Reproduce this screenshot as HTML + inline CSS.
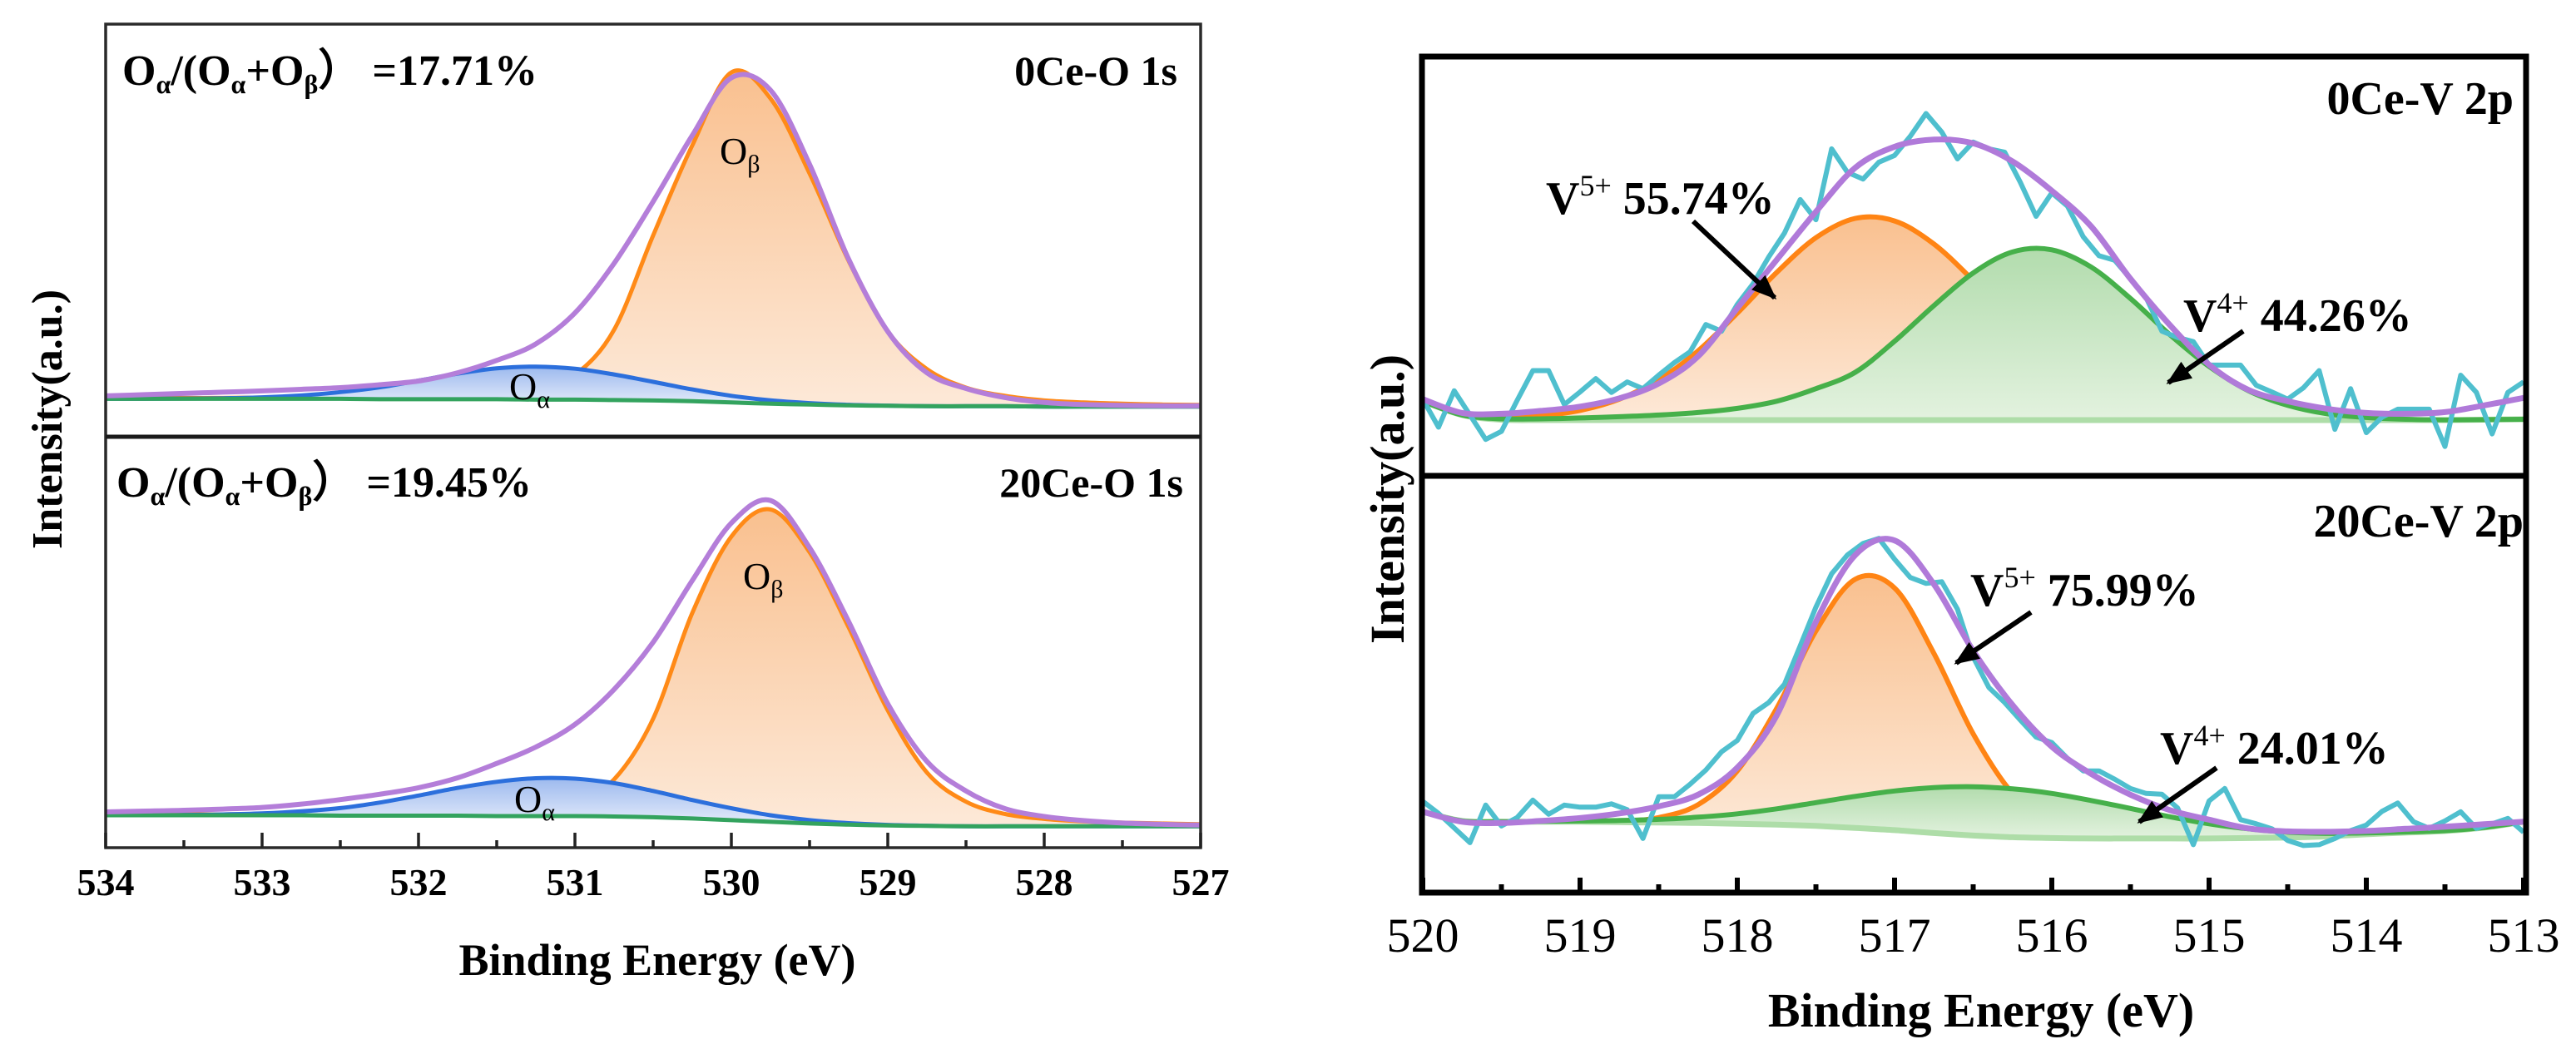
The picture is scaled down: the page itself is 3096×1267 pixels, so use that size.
<!DOCTYPE html>
<html><head><meta charset="utf-8"><style>
html,body{margin:0;padding:0;background:#fff;}
svg{display:block;}
text{font-family:"Liberation Serif","DejaVu Serif",serif;}
</style></head><body>
<svg id="fig" width="3096" height="1267" viewBox="0 0 3096 1267" xmlns="http://www.w3.org/2000/svg">
<defs>
<linearGradient id="gOr" x1="0" y1="0" x2="0" y2="1"><stop offset="0" stop-color="#f9c08f"/><stop offset="1" stop-color="#fde9d8"/></linearGradient>
<linearGradient id="gBl" x1="0" y1="0" x2="0" y2="1"><stop offset="0" stop-color="#9cb9ee"/><stop offset="1" stop-color="#e8eefb"/></linearGradient>
<linearGradient id="gGr" x1="0" y1="0" x2="0" y2="1"><stop offset="0" stop-color="#b2dcad"/><stop offset="1" stop-color="#e3f2df"/></linearGradient>
<marker id="ah" viewBox="0 0 10 10" refX="9" refY="5" markerWidth="5" markerHeight="5" orient="auto" markerUnits="strokeWidth"><path d="M0,1 L10,5 L0,9 Z" fill="#000"/></marker>
</defs>
<g id="plots"></g>

<rect x="127" y="29" width="1316" height="990" fill="none" stroke="#2a2a2a" stroke-width="3.5"/>
<line x1="127" y1="525" x2="1443" y2="525" stroke="#1a1a1a" stroke-width="5"/>
<g id="leftTicks"></g>

<rect x="1709" y="68" width="1327" height="1005" fill="none" stroke="#000" stroke-width="7"/>
<line x1="1709" y1="572" x2="3036" y2="572" stroke="#000" stroke-width="7"/>
<g id="rightTicks"></g>

<text x="147" y="102" font-size="52" font-weight="bold">O<tspan font-size="32" dy="10">α</tspan><tspan dy="-10">/(O</tspan><tspan font-size="32" dy="10">α</tspan><tspan dy="-10">+O</tspan><tspan font-size="32" dy="10">β</tspan><tspan dy="-10">） =17.71%</tspan></text>
<text x="1415" y="102" font-size="50" font-weight="bold" text-anchor="end">0Ce-O 1s</text>
<text x="140" y="597" font-size="52" font-weight="bold">O<tspan font-size="32" dy="10">α</tspan><tspan dy="-10">/(O</tspan><tspan font-size="32" dy="10">α</tspan><tspan dy="-10">+O</tspan><tspan font-size="32" dy="10">β</tspan><tspan dy="-10">） =19.45%</tspan></text>
<text x="1422" y="597" font-size="50" font-weight="bold" text-anchor="end">20Ce-O 1s</text>
<text x="865" y="197" font-size="46" font-family="Liberation Sans, sans-serif">O<tspan font-size="30" dy="10">β</tspan></text>
<text x="612" y="480" font-size="46" font-family="Liberation Sans, sans-serif">O<tspan font-size="30" dy="10">α</tspan></text>
<text x="893" y="708" font-size="46" font-family="Liberation Sans, sans-serif">O<tspan font-size="30" dy="10">β</tspan></text>
<text x="618" y="976" font-size="46" font-family="Liberation Sans, sans-serif">O<tspan font-size="30" dy="10">α</tspan></text>
<text x="790" y="1172" font-size="54" font-weight="bold" text-anchor="middle">Binding Energy (eV)</text>
<text x="0" y="0" font-size="52" font-weight="bold" text-anchor="middle" transform="translate(74,504) rotate(-90)">Intensity(a.u.)</text>

<text x="3021" y="137" font-size="56" font-weight="bold" text-anchor="end">0Ce-V 2p</text>
<text x="3033" y="645" font-size="56" font-weight="bold" text-anchor="end">20Ce-V 2p</text>
<text x="1858" y="257" font-size="56" font-weight="bold">V<tspan font-size="36" font-weight="normal" dy="-22">5+</tspan><tspan dy="22"> 55.74%</tspan></text>
<text x="2624" y="398" font-size="56" font-weight="bold">V<tspan font-size="36" font-weight="normal" dy="-22">4+</tspan><tspan dy="22"> 44.26%</tspan></text>
<text x="2368" y="728" font-size="56" font-weight="bold">V<tspan font-size="36" font-weight="normal" dy="-22">5+</tspan><tspan dy="22"> 75.99%</tspan></text>
<text x="2596" y="918" font-size="56" font-weight="bold">V<tspan font-size="36" font-weight="normal" dy="-22">4+</tspan><tspan dy="22"> 24.01%</tspan></text>
<line x1="2035" y1="266" x2="2133" y2="358" stroke="#000" stroke-width="6" marker-end="url(#ah)"/>
<line x1="2696" y1="398" x2="2606" y2="460" stroke="#000" stroke-width="6" marker-end="url(#ah)"/>
<line x1="2441" y1="736" x2="2351" y2="797" stroke="#000" stroke-width="6" marker-end="url(#ah)"/>
<line x1="2664" y1="923" x2="2571" y2="988" stroke="#000" stroke-width="6" marker-end="url(#ah)"/>
<text x="2381" y="1234" font-size="58" font-weight="bold" text-anchor="middle">Binding Energy (eV)</text>
<text x="0" y="0" font-size="58" font-weight="bold" text-anchor="middle" transform="translate(1687,600) rotate(-90)">Intensity(a.u.)</text>
</svg>
<script>
// ---------- DATA ----------
const eLeft=[534,533.75,533.5,533.25,533,532.75,532.5,532.25,532,531.75,531.5,531.25,531,530.75,530.5,530.25,530,529.75,529.5,529.25,529,528.75,528.5,528.25,528,527.75,527.5,527.25,527];
const leftTicks=[534,533,532,531,530,529,528,527];
const tlBg=[9.2,9.2,9.2,9.2,9.2,9.2,9.2,9.1,9.1,9.1,9.1,9.0,9.0,8.9,8.8,8.6,8.3,8.0,7.8,7.6,7.5,7.4,7.4,7.4,7.3,7.3,7.3,7.3,7.3];
const tlOa=[0,0,0.05,0.14,0.35,0.81,1.62,2.88,4.5,6.2,7.5,8,7.5,6.2,4.5,2.88,1.62,0.81,0.35,0.14,0.05,0,0,0,0,0,0,0,0];
const tlOb=[0.2,0.2,0.2,0.2,0.3,0.3,0.4,0.5,0.6,1.0,1.5,2.5,6,17,40,62,80,74,56,35,18,9,4.5,2.5,1.5,1.0,0.7,0.5,0.4];
const tlEnv=[9.9,10.2,10.5,10.8,11.1,11.5,11.9,12.6,13.5,15.5,18.5,22.5,30,42,57,73,87,84,66,43,25.5,15.5,11.7,9.5,8.3,7.8,7.6,7.5,7.5];
const blBg=[7.9,7.9,7.9,7.9,7.9,7.9,7.8,7.8,7.8,7.8,7.7,7.7,7.7,7.6,7.4,7.1,6.7,6.3,5.9,5.6,5.4,5.3,5.2,5.2,5.2,5.2,5.2,5.2,5.2];
const blOa=[0,0,0.07,0.19,0.45,0.96,1.84,3.17,4.9,6.75,8.34,9.2,9.1,8.1,6.4,4.5,2.9,1.6,0.83,0.38,0.15,0.05,0,0,0,0,0,0,0];
const blOb=[0.2,0.2,0.2,0.2,0.3,0.3,0.4,0.5,0.6,0.8,1.0,1.5,3,9,24,50,69,76,66,48,28,13,6,3,1.8,1.2,0.9,0.7,0.5];
const blEnv=[8.7,8.9,9.1,9.4,9.8,10.6,11.7,13,14.6,17,20.5,24.5,30,38.5,50,65,79,84.5,73,55,35,21,13.8,9.5,7.6,6.6,6,5.7,5.5];

const eRight=[520,519.75,519.5,519.25,519,518.75,518.5,518.25,518,517.75,517.5,517.25,517,516.75,516.5,516.25,516,515.75,515.5,515.25,515,514.75,514.5,514.25,514,513.75,513.5,513.25,513];
const rightTicks=[520,519,518,517,516,515,514,513];
const trBg=[17.8,14.5,13.4,13.3,13.3,13.3,13.3,13.3,13.3,13.3,13.3,13.3,13.3,13.3,13.3,13.3,13.3,13.3,13.3,13.3,13.3,13.3,13.3,13.3,13.3,13.3,13.3,13.4,13.5];
const trV5=[0,0.1,0.34,1.0,2.3,5.0,9.6,16.5,25.5,35.2,43.5,48.1,47.5,42,33.3,23.6,15,8.5,4.3,1.9,0.8,0.3,0.1,0,0,0,0,0,0];
const trV4=[0,0,0.2,0.3,0.5,0.8,1.2,1.8,2.8,4.5,7.5,11.4,18.8,27.3,35.1,40.1,40.6,36.5,29,20.4,12.8,7.0,3.5,1.5,0.6,0.2,0.06,0,0];
const trEnv=[18.3,15,14.8,15.5,16.5,18.5,22,28.5,40,51.5,63,73.5,78.5,80.2,79.3,75,68,59.5,47,36,26.5,20.5,17.8,16,15,14.8,15.2,16.8,18.6];
const rawE=[520,519.9,519.8,519.7,519.6,519.5,519.4,519.3,519.2,519.1,519,518.9,518.8,518.7,518.6,518.5,518.4,518.3,518.2,518.1,518,517.9,517.8,517.7,517.6,517.5,517.4,517.3,517.2,517.1,517,516.9,516.8,516.7,516.6,516.5,516.4,516.3,516.2,516.1,516,515.9,515.8,515.7,515.6,515.5,515.4,515.3,515.2,515.1,515,514.9,514.8,514.7,514.6,514.5,514.4,514.3,514.2,514.1,514,513.9,513.8,513.7,513.6,513.5,513.4,513.3,513.2,513.1,513];
const trRaw=[18.3,11.6,20.3,14.5,8.7,10.6,18,25.1,25.1,17,20,23.2,19.9,22.4,20.8,24.0,27,29.6,36.1,34.5,40.9,45.8,52.2,57.9,65.9,61.1,78,72.4,70.8,74.8,76.4,81,86.4,82,75.6,79.6,78,77.2,70,61.9,67.5,64.3,57,52.5,51.4,47,42.5,34.5,33,32,26.4,26.4,26.4,21.6,20,18.3,21,25.1,11.1,20.8,10.3,14,15.9,15.9,15.9,7.0,24,19.9,10,19.9,22.4];
const brBg=[19.4,17.2,17.0,17.0,17.0,16.9,16.8,16.7,16.5,16.3,16.0,15.5,15.0,14.3,13.7,13.3,13.1,13.0,13.0,13.0,13.0,13.1,13.2,13.5,14.0,14.4,14.8,15.6,17.0];
const brV5=[0,0,0,0,0,0.2,1.2,4.4,12.7,27.9,46.8,59.7,58.1,43.1,24.4,10.5,3.5,0.85,0.2,0,0,0,0,0,0,0,0,0,0];
const brV4=[0,0,0.03,0.08,0.18,0.4,0.78,1.4,2.4,3.8,5.6,7.6,9.4,10.9,11.7,11.6,10.7,9.1,7.2,5.2,3.5,2.2,1.3,0.7,0.34,0.15,0.06,0.02,0];
const brEnv=[19.4,17,16.7,17.2,17.9,19,20.7,23.5,30,42.5,65,81,84.5,74,58,45,35,28.5,23.5,19.8,17.5,15.4,14.7,14.6,14.8,15.3,15.8,16.4,17];
const brRaw=[21.9,19,15.5,12,21,16,18,22.2,18.8,21,20.5,20.5,21.3,19.9,13,23,23,26,29.4,33.8,36.5,43,45.6,50,59.2,68.5,76.5,81,83.8,85,80,75.6,74.2,74.6,68,56.5,49.2,45.6,41.4,37.3,36,32.2,29.2,29.2,27.2,25,23.8,23.6,20.3,11.5,22,25,17.5,16.5,15.3,12.5,11.3,11.5,13,14.9,16.2,19.5,21.5,17,15.4,17.2,19.4,15.4,16.5,17.8,14.5];

// ---------- AXES ----------
const xL=e=>127+(534-e)*188;
const yTL=v=>525-v*4.96;
const yBL=v=>1019-v*4.94;
const xR=e=>1710+(520-e)*189;
const yTR=v=>572-v*5.04;
const yBR=v=>1073-v*5.01;

const NS="http://www.w3.org/2000/svg";
const plots=document.getElementById('plots');
function mk(parent,tag,attrs){const el=document.createElementNS(NS,tag);for(const k in attrs)el.setAttribute(k,attrs[k]);parent.appendChild(el);return el;}
function pts(es,vs,fx,fy){return es.map((e,i)=>[fx(e),fy(vs[i])]);}
function seg(p){let d='';for(let i=0;i<p.length-1;i++){const p0=p[i-1]||p[i],p1=p[i],p2=p[i+1],p3=p[i+2]||p2;
 const c1x=p1[0]+(p2[0]-p0[0])/6,c1y=p1[1]+(p2[1]-p0[1])/6,c2x=p2[0]-(p3[0]-p1[0])/6,c2y=p2[1]-(p3[1]-p1[1])/6;
 d+=`C${c1x.toFixed(1)},${c1y.toFixed(1)} ${c2x.toFixed(1)},${c2y.toFixed(1)} ${p2[0].toFixed(1)},${p2[1].toFixed(1)}`;}return d;}
function curve(p){return `M${p[0][0].toFixed(1)},${p[0][1].toFixed(1)}`+seg(p);}
function area(top,bot){const b=bot.slice().reverse();return curve(top)+`L${b[0][0].toFixed(1)},${b[0][1].toFixed(1)}`+seg(b)+'Z';}
const add=(a,b)=>a.map((v,i)=>v+b[i]);

function drawLeft(prefix,bg,oa,ob,env,fy){
  const g=mk(plots,'g',{});
  
  
  const pBg=pts(eLeft,bg,xL,fy), pOb=pts(eLeft,add(bg,ob),xL,fy), pOa=pts(eLeft,add(bg,oa),xL,fy), pEnv=pts(eLeft,env,xL,fy);
  let el=mk(g,'path',{d:area(pOb,pBg),fill:'url(#gOr)',stroke:'none'});
  
  
  el=mk(g,'path',{d:curve(pOb),fill:'none',stroke:'#ff8a17','stroke-width':5});
  
  
  el=mk(g,'path',{d:area(pOa,pBg),fill:'url(#gBl)',stroke:'none'});
  
  
  el=mk(g,'path',{d:curve(pOa),fill:'none',stroke:'#2c6fdc','stroke-width':5});
  
  
  el=mk(g,'path',{d:curve(pBg),fill:'none',stroke:'#33a35e','stroke-width':5});
  
  
  el=mk(g,'path',{d:curve(pEnv),fill:'none',stroke:'#b47ed9','stroke-width':6});
  
  
}
function drawRight(prefix,bg,v5,v4,env,raw,fy){
  const g=mk(plots,'g',{});
  
  
  const pBg=pts(eRight,bg,xR,fy), p5=pts(eRight,add(bg,v5),xR,fy), p4=pts(eRight,add(bg,v4),xR,fy), pEnv=pts(eRight,env,xR,fy);
  let el=mk(g,'path',{d:area(p5,pBg),fill:'url(#gOr)',stroke:'none'});
  
  
  el=mk(g,'path',{d:curve(p5),fill:'none',stroke:'#ff8414','stroke-width':6});
  
  
  el=mk(g,'path',{d:area(p4,pBg),fill:'url(#gGr)',stroke:'none'});
  
  
  el=mk(g,'path',{d:curve(pBg),fill:'none',stroke:'#aedda8','stroke-width':7});
  
  
  el=mk(g,'path',{d:curve(p4),fill:'none',stroke:'#46b04a','stroke-width':6});
  
  
  const pr=pts(rawE,raw,xR,fy).map(p=>p[0].toFixed(1)+','+p[1].toFixed(1)).join(' ');
  el=mk(g,'polyline',{points:pr,fill:'none',stroke:'#4fbfce','stroke-width':6,'stroke-linejoin':'round'});
  
  
  el=mk(g,'path',{d:curve(pEnv),fill:'none',stroke:'#b07ad9','stroke-width':7});
  
  
}
drawLeft('0ce-o1s',tlBg,tlOa,tlOb,tlEnv,yTL);
drawLeft('20ce-o1s',blBg,blOa,blOb,blEnv,yBL);
drawRight('0ce-v2p',trBg,trV5,trV4,trEnv,trRaw,yTR);
drawRight('20ce-v2p',brBg,brV5,brV4,brEnv,brRaw,yBR);

// ---------- TICKS ----------
const lt=document.getElementById('leftTicks');
leftTicks.forEach((t,i)=>{
  let el=mk(lt,'line',{x1:xL(t),x2:xL(t),y1:1019,y2:1001,stroke:'#222','stroke-width':3.5});
  
  
  if(i<leftTicks.length-1){
    el=mk(lt,'line',{x1:xL(t-0.5),x2:xL(t-0.5),y1:1019,y2:1010,stroke:'#222','stroke-width':3.5});
    
    
  }
  el=mk(lt,'text',{x:xL(t),y:1076,'font-size':46,'font-weight':'bold','text-anchor':'middle'});
  el.textContent=t;
  
  
});
const rt=document.getElementById('rightTicks');
rightTicks.forEach((t,i)=>{
  let el=mk(rt,'line',{x1:xR(t),x2:xR(t),y1:1073,y2:1055,stroke:'#000','stroke-width':6});
  
  
  if(i<rightTicks.length-1){
    el=mk(rt,'line',{x1:xR(t-0.5),x2:xR(t-0.5),y1:1073,y2:1063,stroke:'#000','stroke-width':6});
    
    
  }
  el=mk(rt,'text',{x:xR(t),y:1144,'font-size':58,'text-anchor':'middle'});
  el.textContent=t;
  
  
});
</script>
</body></html>
